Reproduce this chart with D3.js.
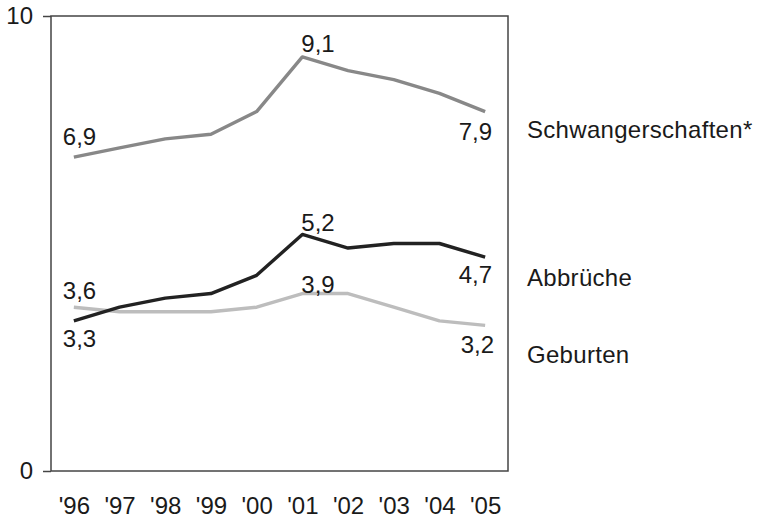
<!DOCTYPE html>
<html>
<head>
<meta charset="utf-8">
<script src="https://cdn.jsdelivr.net/npm/d3@7"></script>
<style>
  body { margin: 0; background: #fff; }
  svg text { font-family: Arial, "Liberation Sans", sans-serif; fill: #1a1a1a; }
</style>
</head>
<body>
<div id="chart"></div>
<script>
// years on the x axis
var years = ["'96", "'97", "'98", "'99", "'00", "'01", "'02", "'03", "'04", "'05"];
// values per series
var schwangerschaften = [6.9, 7.1, 7.3, 7.4, 7.9, 9.1, 8.8, 8.6, 8.3, 7.9];
var abbrueche = [3.3, 3.6, 3.8, 3.9, 4.3, 5.2, 4.9, 5.0, 5.0, 4.7];
var geburten = [3.6, 3.5, 3.5, 3.5, 3.6, 3.9, 3.9, 3.6, 3.3, 3.2];
var seriesNames = ["Schwangerschaften*", "Abbrüche", "Geburten"];
var yTicks = [0, 10];

var width = 759, height = 526;
var margin = {top: 16, right: 251, bottom: 55, left: 51};
var innerW = width - margin.left - margin.right;
var innerH = height - margin.top - margin.bottom;

var x = d3.scalePoint().domain(years).range([0, innerW]).padding(0.5);
var y = d3.scaleLinear().domain([0, 10]).range([innerH, 0]);

var fmt = function(v) { return d3.format(".1f")(v).replace(".", ","); };

var series = [
  {name: seriesNames[0], values: schwangerschaften, color: "#888888", legendAt: 7.5,
   labels: [{i: 0, dx: -11, dy: -21, anchor: "start"}, {i: 5, dx: -1, dy: -13, anchor: "start"}, {i: 9, dx: 7, dy: 20, anchor: "end"}]},
  {name: seriesNames[1], values: abbrueche, color: "#222222", legendAt: 4.26,
   labels: [{i: 0, dx: -11, dy: 18, anchor: "start"}, {i: 5, dx: -1, dy: -12, anchor: "start"}, {i: 9, dx: 7, dy: 17, anchor: "end"}]},
  {name: seriesNames[2], values: geburten, color: "#bdbdbd", legendAt: 2.57,
   labels: [{i: 0, dx: -11, dy: -17, anchor: "start"}, {i: 5, dx: -1, dy: -9, anchor: "start"}, {i: 9, dx: 9, dy: 19, anchor: "end"}]}
];

var svg = d3.select("#chart").append("svg")
    .attr("width", width)
    .attr("height", height)
  .append("g")
    .attr("transform", "translate(" + margin.left + "," + margin.top + ")");

// frame
svg.append("rect")
    .attr("width", innerW)
    .attr("height", innerH)
    .attr("fill", "none")
    .attr("stroke", "#444")
    .attr("stroke-width", 1.5);

// y axis, only 0 and 10
var yAxis = svg.append("g")
    .call(d3.axisLeft(y).tickValues(yTicks).tickSize(8).tickPadding(10).tickFormat(d3.format("d")));
yAxis.select(".domain").remove();
yAxis.selectAll("line").attr("stroke", "#444").attr("stroke-width", 1.5);
yAxis.selectAll("text").style("font-size", "24px").attr("fill", "#1a1a1a");

// x axis labels
var xAxis = svg.append("g")
    .attr("transform", "translate(0," + innerH + ")")
    .call(d3.axisBottom(x).tickSize(0).tickPadding(26));
xAxis.select(".domain").remove();
xAxis.selectAll("text").style("font-size", "24px").attr("fill", "#1a1a1a");

var line = d3.line()
    .x(function(d, i) { return x(years[i]); })
    .y(function(d) { return y(d); });

// draw light series first so darker ones sit on top
[series[2], series[0], series[1]].forEach(function(s) {
  svg.append("path")
      .datum(s.values)
      .attr("fill", "none")
      .attr("stroke", s.color)
      .attr("stroke-width", 3.4)
      .attr("stroke-linejoin", "round")
      .attr("d", line);
});

series.forEach(function(s) {
  svg.selectAll(null)
      .data(s.labels)
    .enter().append("text")
      .attr("x", function(d) { return x(years[d.i]) + d.dx; })
      .attr("y", function(d) { return y(s.values[d.i]) + d.dy; })
      .attr("dominant-baseline", "central")
      .attr("text-anchor", function(d) { return d.anchor; })
      .style("font-size", "24px")
      .text(function(d) { return fmt(s.values[d.i]); });

  svg.append("text")
      .attr("x", innerW + 19)
      .attr("y", y(s.legendAt))
      .attr("dominant-baseline", "central")
      .style("font-size", "24px")
      .style("letter-spacing", "0.3px")
      .text(s.name);
});
</script>
</body>
</html>
